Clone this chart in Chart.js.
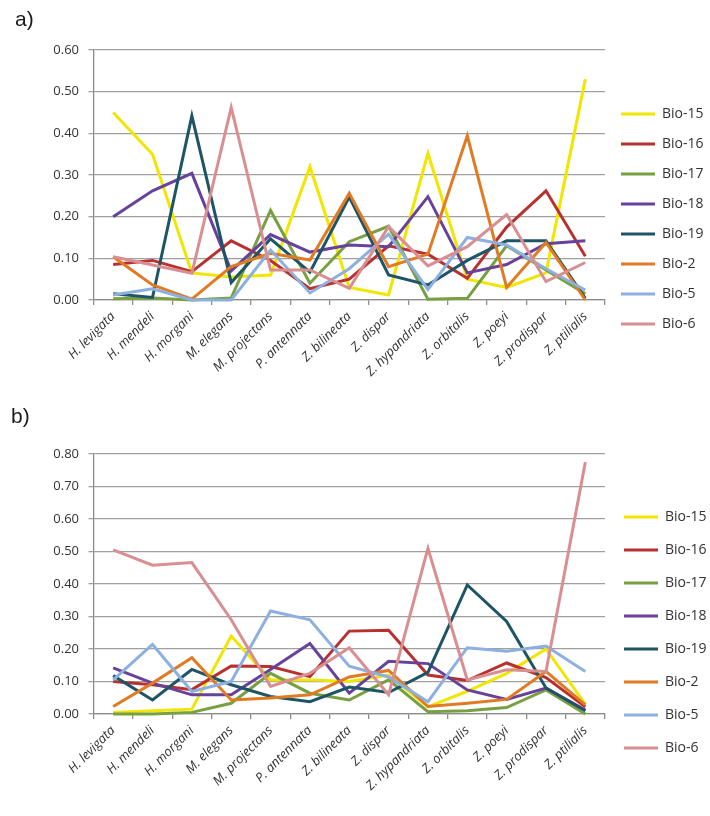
<!DOCTYPE html>
<html><head><meta charset="utf-8">
<script src="https://cdn.jsdelivr.net/npm/chart.js@4"></script>
<style>
html,body{margin:0;padding:0;background:#fff;width:710px;height:816px;overflow:hidden;}
canvas{position:absolute;left:0;}
#ca{top:0px}
#cb{top:396px}
</style></head><body>
<canvas id="ca" width="710" height="396"></canvas>
<canvas id="cb" width="710" height="420"></canvas>
<script>
const categories = ['H. levigata','H. mendeli','H. morgani','M. elegans','M. projectans','P. antennata','Z. bilineata','Z. dispar','Z. hypandriata','Z. orbitalis','Z. poeyi','Z. prodispar','Z. ptilialis'];
const seriesNames = ['Bio-15','Bio-16','Bio-17','Bio-18','Bio-19','Bio-2','Bio-5','Bio-6'];
const seriesColors = ['#F0E600','#B8312F','#78A040','#68429A','#1E5566','#E07B24','#8DB0E0','#D98F92'];

// chart a)
const aBio15 = [0.45, 0.35, 0.065, 0.055, 0.06, 0.32, 0.03, 0.012, 0.352, 0.05, 0.03, 0.065, 0.53];
const aBio16 = [0.085, 0.095, 0.068, 0.142, 0.095, 0.027, 0.05, 0.13, 0.11, 0.052, 0.175, 0.262, 0.105];
const aBio17 = [0.003, 0.005, 0.0, 0.005, 0.215, 0.04, 0.14, 0.177, 0.002, 0.004, 0.13, 0.072, 0.015];
const aBio18 = [0.20, 0.262, 0.304, 0.07, 0.157, 0.115, 0.132, 0.128, 0.248, 0.065, 0.085, 0.135, 0.142];
const aBio19 = [0.015, 0.006, 0.442, 0.042, 0.147, 0.067, 0.247, 0.06, 0.036, 0.095, 0.142, 0.142, 0.004];
const aBio2  = [0.104, 0.036, 0.002, 0.08, 0.112, 0.096, 0.256, 0.08, 0.11, 0.394, 0.03, 0.138, 0.0];
const aBio5  = [0.012, 0.027, 0.0, 0.0, 0.12, 0.017, 0.075, 0.158, 0.025, 0.15, 0.132, 0.075, 0.024];
const aBio6  = [0.104, 0.084, 0.064, 0.462, 0.072, 0.072, 0.028, 0.176, 0.082, 0.128, 0.205, 0.044, 0.09];
const yTicksA = [0.00, 0.10, 0.20, 0.30, 0.40, 0.50, 0.60];

// chart b)
const bBio15 = [0.005, 0.01, 0.015, 0.24, 0.105, 0.105, 0.10, 0.12, 0.022, 0.07, 0.125, 0.20, 0.03];
const bBio16 = [0.10, 0.09, 0.075, 0.148, 0.146, 0.115, 0.255, 0.258, 0.12, 0.103, 0.157, 0.112, 0.022];
const bBio17 = [0.0, 0.0, 0.005, 0.033, 0.125, 0.064, 0.043, 0.105, 0.007, 0.01, 0.02, 0.074, 0.0];
const bBio18 = [0.142, 0.095, 0.059, 0.059, 0.137, 0.217, 0.064, 0.162, 0.155, 0.074, 0.045, 0.08, 0.012];
const bBio19 = [0.118, 0.043, 0.137, 0.09, 0.054, 0.038, 0.083, 0.066, 0.128, 0.397, 0.285, 0.08, 0.01];
const bBio2  = [0.023, 0.095, 0.173, 0.043, 0.049, 0.059, 0.114, 0.134, 0.023, 0.033, 0.045, 0.131, 0.028];
const bBio5  = [0.105, 0.214, 0.069, 0.10, 0.317, 0.29, 0.147, 0.114, 0.038, 0.204, 0.193, 0.209, 0.131];
const bBio6  = [0.505, 0.458, 0.466, 0.29, 0.085, 0.125, 0.204, 0.059, 0.51, 0.105, 0.136, 0.131, 0.775];
const yTicksB = [0.00, 0.10, 0.20, 0.30, 0.40, 0.50, 0.60, 0.70, 0.80];

const FONT = "'Open Sans', 'DejaVu Sans', sans-serif";

function makeChart(id, panelLabel, seriesData, yTicks, L) {
  const datasets = seriesData.map((d, i) => ({
    label: seriesNames[i],
    data: d,
    borderColor: seriesColors[i],
    backgroundColor: seriesColors[i],
    borderWidth: 3,
    pointRadius: 0,
    pointHoverRadius: 0,
    tension: 0,
    fill: false,
    clip: false,
    order: seriesData.length - i
  }));
  return new Chart(document.getElementById(id), {
    type: 'line',
    data: { labels: categories, datasets },
    options: {
      responsive: false,
      animation: false,
      events: [],
      layout: { padding: { left: L.padLeft, right: 0, top: 0, bottom: 0 } },
      plugins: {
        tooltip: { enabled: false },
        title: {
          display: true, text: panelLabel, align: 'start', color: '#1a1a1a',
          font: { family: "'Liberation Sans', Arial, sans-serif", size: 21, weight: 'normal' },
          padding: { top: L.titleTop, bottom: L.titleBottom }
        },
        legend: {
          position: 'right', align: 'start', fullSize: true, maxWidth: 105,
          title: { display: true, text: '', padding: { top: L.legendSpacer, bottom: 0 }, font: { size: 10 } },
          labels: {
            usePointStyle: true, pointStyle: 'line', pointStyleWidth: 34,
            padding: L.legendPad, color: '#333',
            font: { family: FONT, size: 14 },
            sort: (a, b) => a.datasetIndex - b.datasetIndex
          }
        }
      },
      scales: {
        x: {
          type: 'category',
          offset: true,
          afterFit: s => { s.height = L.xHeight; },
          grid: { display: true, drawOnChartArea: false, drawTicks: true, tickLength: 5, color: '#8c8c8c', lineWidth: 1.3, offset: true },
          border: { display: true, color: '#8c8c8c', width: 1.3 },
          ticks: { autoSkip: false, minRotation: 45, maxRotation: 45, padding: 4, color: '#333',
                   font: { family: FONT, size: 13, style: 'italic' } }
        },
        y: {
          min: yTicks[0], max: yTicks[yTicks.length - 1],
          afterFit: s => { s.width = L.yWidth; },
          afterBuildTicks: s => { s.ticks = yTicks.map(v => ({ value: v })); },
          grid: { color: '#a0a0a0', lineWidth: 1.3, drawTicks: true, tickLength: 5 },
          border: { display: true, color: '#8c8c8c', width: 1.3 },
          ticks: { padding: 9.5, color: '#333', font: { family: FONT, size: 13 },
                   callback: v => Number(v).toFixed(2) }
        }
      }
    }
  });
}

makeChart('ca', 'a)', [aBio15, aBio16, aBio17, aBio18, aBio19, aBio2, aBio5, aBio6], yTicksA,
  { padLeft: 15, titleTop: 7.4, titleBottom: 17.4, legendSpacer: 79, legendPad: 16, xHeight: 96, yWidth: 78.5 });
makeChart('cb', 'b)', [bBio15, bBio16, bBio17, bBio18, bBio19, bBio2, bBio5, bBio6], yTicksB,
  { padLeft: 11, titleTop: 8.4, titleBottom: 24.4, legendSpacer: 83, legendPad: 19, xHeight: 102, yWidth: 82.5 });
</script>
</body></html>
